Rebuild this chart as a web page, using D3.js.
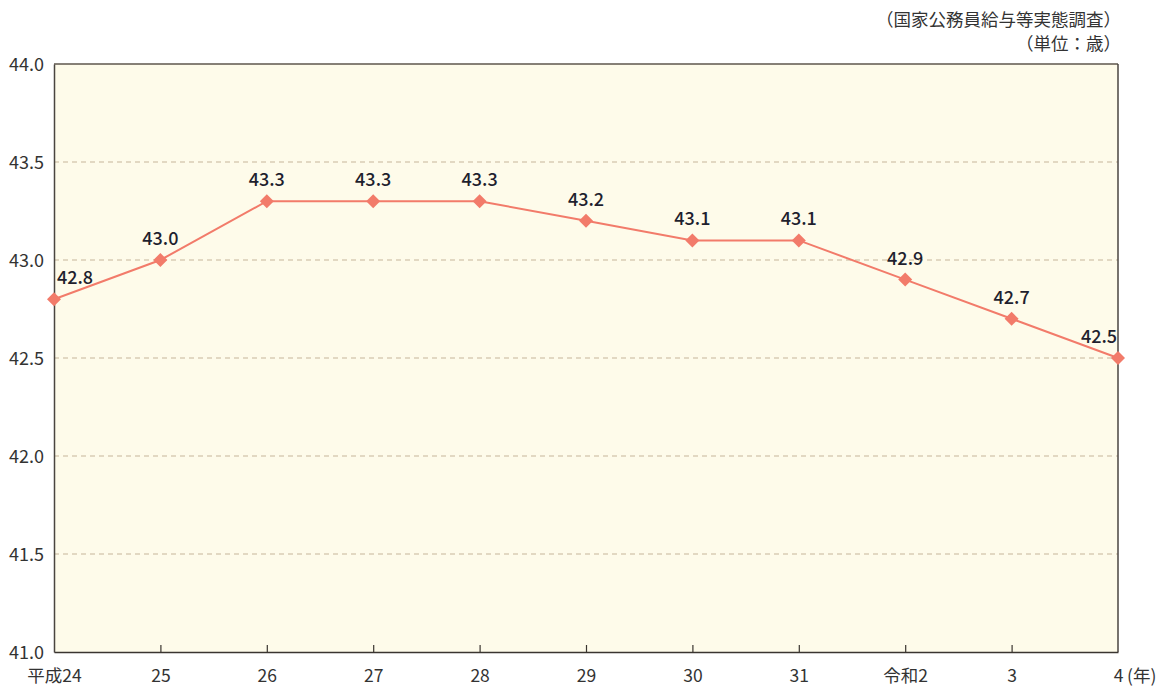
<!DOCTYPE html>
<html>
<head>
<meta charset="utf-8">
<script src="https://cdn.jsdelivr.net/npm/d3@7"></script>
<style>
  body { margin: 0; background: #fff; }
  svg text { font-family: "Noto Sans CJK JP", "Noto Sans", sans-serif; }
</style>
</head>
<body>
<svg id="chart"></svg>
<script>
const years = ["平成24", "25", "26", "27", "28", "29", "30", "31", "令和2", "3", "4"];
const ages = [42.8, 43.0, 43.3, 43.3, 43.3, 43.2, 43.1, 43.1, 42.9, 42.7, 42.5];
const yTicks = [41.0, 41.5, 42.0, 42.5, 43.0, 43.5, 44.0];
const sourceNote = "（国家公務員給与等実態調査）";
const unitNote = "（単位：歳）";

const W = 1162, H = 688;
const MARGIN = {top: 64, right: 44, bottom: 36, left: 54};
const WIDTH = W - MARGIN.left - MARGIN.right;
const HEIGHT = H - MARGIN.top - MARGIN.bottom;

const svg = d3.select("#chart").attr("width", W).attr("height", H);

svg.append("text")
  .attr("x", 1121).attr("y", 26)
  .attr("text-anchor", "end")
  .style("font-size", "17.5px").style("fill", "#333")
  .text(sourceNote);
svg.append("text")
  .attr("x", 1121).attr("y", 50)
  .attr("text-anchor", "end")
  .style("font-size", "17.5px").style("fill", "#333")
  .text(unitNote);

const g = svg.append("g")
  .attr("transform", "translate(" + MARGIN.left + "," + MARGIN.top + ")");

const xScale = d3.scalePoint().domain(years).range([0, WIDTH]);
const yScale = d3.scaleLinear().domain([41, 44]).range([HEIGHT, 0]);

g.append("rect")
  .attr("width", WIDTH).attr("height", HEIGHT)
  .style("fill", "#fefbea");

// dashed gridlines
g.append("g")
  .selectAll("line")
  .data(yTicks.filter(d => d > 41 && d < 44))
  .join("line")
  .attr("x1", 0).attr("x2", WIDTH)
  .attr("y1", d => yScale(d)).attr("y2", d => yScale(d))
  .style("stroke", "#c6b699")
  .style("stroke-width", 1.2)
  .style("stroke-dasharray", "5,4");

// frame: top, right
g.append("line")
  .attr("x1", 0).attr("x2", WIDTH).attr("y1", 0).attr("y2", 0)
  .style("stroke", "#5e564c").style("stroke-width", 1.5);
g.append("line")
  .attr("x1", WIDTH).attr("x2", WIDTH).attr("y1", 0).attr("y2", HEIGHT)
  .style("stroke", "#4a4540").style("stroke-width", 1.5);

// y axis
const yAxis = g.append("g")
  .call(d3.axisLeft(yScale).tickValues(yTicks).tickFormat(d3.format(".1f")).tickSize(0).tickPadding(10));
yAxis.select(".domain").style("stroke", "#4a4540").style("stroke-width", 1.5);
yAxis.selectAll("text")
  .style("font-size", "18px").style("fill", "#333")
  .attr("dy", "0.34em");

// x axis with inward ticks
const xAxis = g.append("g")
  .attr("transform", "translate(0," + HEIGHT + ")")
  .call(d3.axisBottom(xScale).tickSize(-7).tickSizeOuter(0));
xAxis.select(".domain").style("stroke", "#3a3530").style("stroke-width", 1.5);
xAxis.selectAll(".tick line").style("stroke", "#3a3530").style("stroke-width", 1.2);
xAxis.selectAll(".tick")
  .filter(d => d === years[0] || d === years[years.length - 1])
  .select("line").remove();
xAxis.selectAll("text")
  .style("font-size", "17.5px").style("fill", "#333")
  .attr("y", 30).attr("dy", 0);
xAxis.append("text")
  .attr("x", WIDTH + 9)
  .attr("y", 30)
  .attr("text-anchor", "start")
  .style("font-size", "17.5px").style("fill", "#333")
  .text("(年)");

// line
const points = years.map((y, i) => ({year: y, value: ages[i]}));
g.append("path")
  .datum(points)
  .attr("d", d3.line().x(d => xScale(d.year)).y(d => yScale(d.value)))
  .style("fill", "none")
  .style("stroke", "#f27b6a")
  .style("stroke-width", 2);

g.selectAll(".marker")
  .data(points)
  .join("path")
  .attr("class", "marker")
  .attr("transform", d => "translate(" + xScale(d.year) + "," + yScale(d.value) + ")")
  .attr("d", "M0,-7L7,0L0,7L-7,0Z")
  .style("fill", "#f27b6a");

g.selectAll(".label")
  .data(points)
  .join("text")
  .attr("class", "label")
  .attr("x", (d, i) => xScale(d.year) + (i === 0 ? 21 : i === points.length - 1 ? -19 : 0))
  .attr("y", d => yScale(d.value) - 15)
  .attr("text-anchor", "middle")
  .style("font-size", "18px")
  .style("font-weight", "500")
  .style("fill", "#1f1f2e")
  .text(d => d.value.toFixed(1));
</script>
</body>
</html>
